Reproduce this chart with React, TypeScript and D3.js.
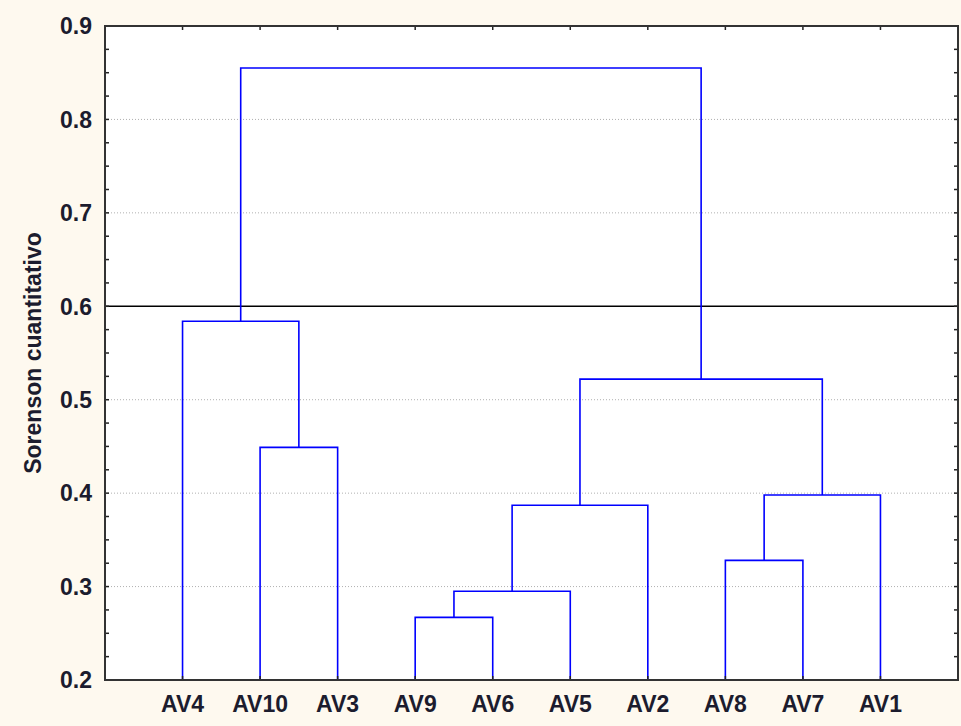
import React from 'react';
import * as d3 from 'd3';

// leaf order along the x axis
const leaves = ['AV4', 'AV10', 'AV3', 'AV9', 'AV6', 'AV5', 'AV2', 'AV8', 'AV7', 'AV1'];
// merge steps: m1..m9 in this order
const merges = [
  ['AV9', 'AV6'],
  ['m1', 'AV5'],
  ['m2', 'AV2'],
  ['AV8', 'AV7'],
  ['m4', 'AV1'],
  ['m3', 'm5'],
  ['AV10', 'AV3'],
  ['AV4', 'm7'],
  ['m8', 'm6'],
];
const mergeHeights = [0.267, 0.295, 0.387, 0.328, 0.398, 0.522, 0.449, 0.584, 0.855];
const yTicks = [0.2, 0.3, 0.4, 0.5, 0.6, 0.7, 0.8, 0.9];
const cutLine = 0.6;

const W = 961;
const H = 726;
const margin = { top: 26, right: 3, bottom: 46, left: 105 };

const App: React.FC = () => {
  const x = d3.scalePoint<string>()
    .domain(leaves)
    .range([margin.left, W - margin.right])
    .padding(1);

  const y = d3.scaleLinear()
    .domain([0.2, 0.9])
    .range([H - margin.bottom, margin.top]);

  // positions of every node
  const pos: Record<string, { x: number; h: number }> = {};
  leaves.forEach(l => { pos[l] = { x: x(l) || 0, h: 0.2 }; });
  const links: { a: string; b: string; h: number }[] = [];
  merges.forEach((m, i) => {
    const h = mergeHeights[i];
    pos['m' + (i + 1)] = { x: (pos[m[0]].x + pos[m[1]].x) / 2, h };
    links.push({ a: m[0], b: m[1], h });
  });

  const paths = links.map(l => {
    const A = pos[l.a];
    const B = pos[l.b];
    return `M${A.x},${y(A.h)}V${y(l.h)}H${B.x}V${y(B.h)}`;
  });

  const minor = d3.range(0.2, 0.9001, 0.025);
  const x0 = margin.left;
  const x1 = W - margin.right;
  const yb = H - margin.bottom;
  const yt = margin.top;
  const font = 'Arial, "Liberation Sans", sans-serif';

  return (
    <svg width={W} height={H} style={{ position: 'absolute', left: 0, top: 0 }}>
      <rect x={0} y={0} width={W} height={H} fill="#fef9ef" />
      <rect x={x0} y={yt} width={x1 - x0} height={yb - yt} fill="#ffffff" />

      {yTicks.filter(t => t > 0.2 && t < 0.9 && t !== cutLine).map(t => (
        <line key={'g' + t} x1={x0} x2={x1} y1={y(t)} y2={y(t)}
          stroke="#b0b0b0" strokeWidth={1} strokeDasharray="1,2" />
      ))}

      <line x1={x0} x2={x1} y1={y(cutLine)} y2={y(cutLine)} stroke="#000" strokeWidth={1.5} />

      {paths.map((d, i) => (
        <path key={i} d={d} fill="none" stroke="#0000ff" strokeWidth={1.6} />
      ))}

      {/* minor ticks left/right */}
      {minor.map((t, i) => (
        <g key={'m' + i}>
          <line x1={x0} x2={x0 + 4} y1={y(t)} y2={y(t)} stroke="#222" strokeWidth={1.5} />
          <line x1={x1} x2={x1 - 4} y1={y(t)} y2={y(t)} stroke="#222" strokeWidth={1.5} />
        </g>
      ))}
      {/* leaf ticks top/bottom */}
      {leaves.map(l => (
        <g key={'t' + l}>
          <line x1={x(l)} x2={x(l)} y1={yb} y2={yb - 4} stroke="#222" strokeWidth={1.5} />
          <line x1={x(l)} x2={x(l)} y1={yt} y2={yt + 4} stroke="#222" strokeWidth={1.5} />
        </g>
      ))}

      <rect x={x0} y={yt} width={x1 - x0} height={yb - yt} fill="none" stroke="#333" strokeWidth={2} />

      {yTicks.map(t => (
        <text key={'yl' + t} x={x0 - 13} y={y(t)} dy="0.36em" textAnchor="end"
          fontFamily={font} fontWeight="bold" fontSize={23} fill="#1c1c2e">
          {d3.format('.1f')(t)}
        </text>
      ))}

      {leaves.map(l => (
        <text key={'xl' + l} x={x(l)} y={yb + 24} dy="0.36em" textAnchor="middle"
          fontFamily={font} fontWeight="bold" fontSize={23} fill="#1c1c2e">
          {l}
        </text>
      ))}

      <text transform={`translate(41,${(yt + yb) / 2}) rotate(-90)`} textAnchor="middle"
        fontFamily={font} fontWeight="bold" fontSize={23} fill="#1c1c2e">
        Sorenson cuantitativo
      </text>
    </svg>
  );
};

export default App;
